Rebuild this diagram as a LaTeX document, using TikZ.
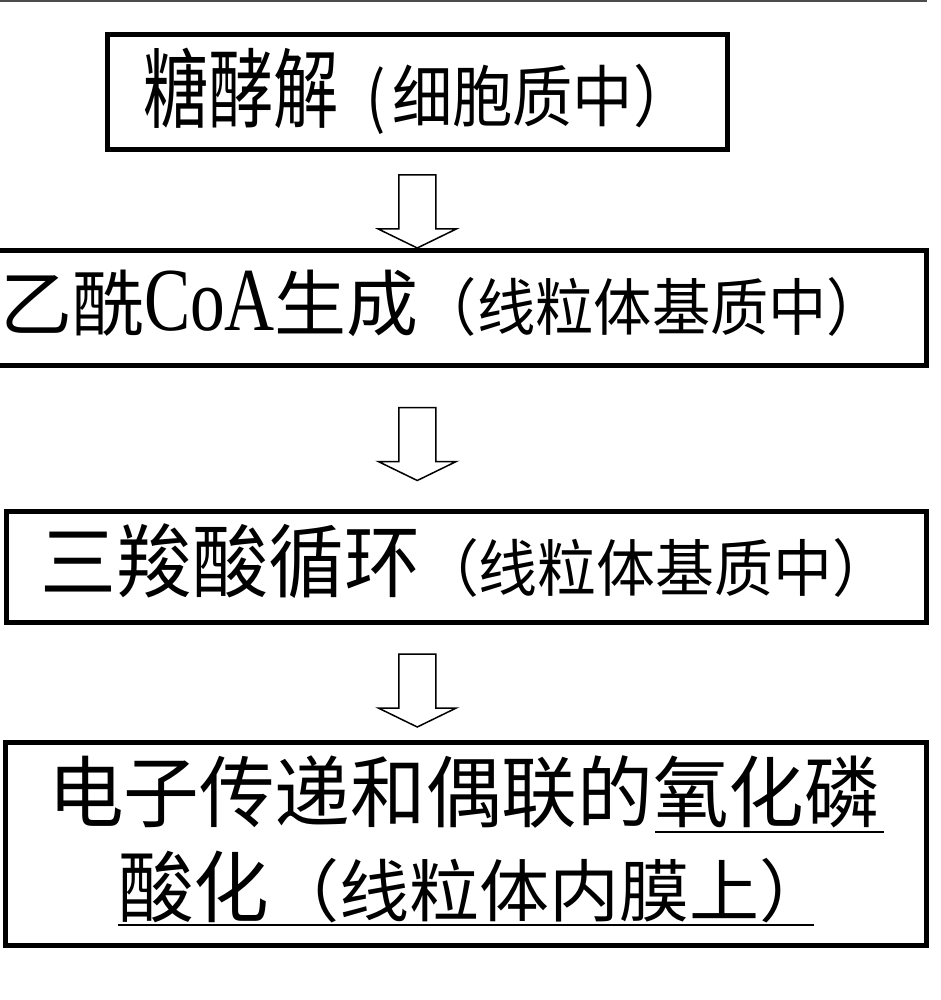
\documentclass[tikz,border=0pt]{standalone}
\usepackage{fontspec}
\usepackage{graphicx}
\usetikzlibrary{calc}
\newfontfamily\hanfont{Noto Sans CJK SC}
\newfontfamily\romanfont{Liberation Serif}
% #1 font size in pt, #2 horizontal scale, #3 text
\newcommand{\hz}[3]{\scalebox{#2}[1]{\fontsize{#1pt}{#1pt}\selectfont\hanfont #3}}
\newcommand{\latinrun}[3]{\scalebox{#2}[1]{\fontsize{#1pt}{#1pt}\selectfont\romanfont #3}}
% hollow block arrow pointing down, tip at the pic origin
\tikzset{hollowdown/.pic={
  \path[flowarrow] (-18.5,-73) -- (-18.5,-19) -- (-39,-19) -- (0,0)
    -- (39,-19) -- (18.5,-19) -- (18.5,-73) -- cycle;}}
\begin{document}
\begin{tikzpicture}[x=1pt,y=-1pt,
  stagebox/.style={draw=black,line width=5pt,inner sep=0pt},
  runtext/.style={inner sep=0pt,outer sep=0pt,anchor=west},
  flowarrow/.style={draw=black,line width=1.5pt,fill=white,line join=miter},
  underrule/.style={draw=black,line width=2.5pt},
  topline/.style={draw=black!70,line width=2pt}]
\useasboundingbox (0,0) rectangle (940,1000);
\draw[topline] (0,1) -- (927,1);

% stage boxes
\node[stagebox,minimum width=619.5pt,minimum height=115pt] (box1) at (417.25,92) {};
\node[stagebox,minimum width=929pt,minimum height=114.5pt] (box2) at (461.5,307.75) {};
\node[stagebox,minimum width=919.5pt,minimum height=111.5pt] (box3) at (466.25,566.75) {};
\node[stagebox,minimum width=920.5pt,minimum height=203pt] (box4) at (465.75,844) {};

% stage texts
\node[runtext] (t1) at (143,91) {\hz{87}{0.75}{糖酵解}\hspace{28pt}\hz{67}{0.85}{(}\hspace{6pt}\hz{67}{0.9}{细胞质中）}};
\node[runtext] (t2) at (0,303) {\hz{72}{1}{乙酰}\latinrun{90}{0.77}{CoA}\hz{72}{1}{生成}\hz{62}{0.94}{（线粒体基质中）}};
\node[runtext] (t3) at (40,561) {\hz{80}{0.95}{三羧酸循环}\hz{62}{0.95}{（线粒体基质中）}};
\node[runtext] (t4a) at (48,792) {\hz{78}{0.97}{电子传递和偶联的}};
\node[runtext,anchor=base west] (t4b) at (t4a.base east) {\hz{78}{0.97}{氧化磷}};
\node[runtext] (t4c) at (118,887) {\hz{78}{0.97}{酸化}\hz{68}{1.03}{（线粒体内膜上）}};
\draw[underrule] ($(t4b.south west)+(2,4)$) -- ($(t4b.south east)+(4,4)$);
\draw[underrule] ($(t4c.south west)+(0,2)$) -- ($(t4c.south east)+(-16,2)$);

% flow arrows between the stages
\coordinate (tip1) at (box1.south |- box2.north);
\coordinate (tip2) at ($(box1.south |- box3.north)+(0,-28)$);
\coordinate (tip3) at ($(box1.south |- box4.north)+(0,-13)$);
\pic at (tip1) {hollowdown};
\pic at (tip2) {hollowdown};
\pic at (tip3) {hollowdown};
\end{tikzpicture}
\end{document}
